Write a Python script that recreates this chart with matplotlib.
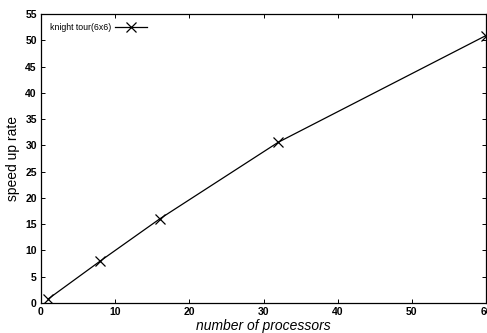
import matplotlib
matplotlib.use('Agg')
import matplotlib.pyplot as plt

# data
processors = [1, 8, 16, 32, 60]
speedup = [0.8, 8.0, 16.0, 30.6, 50.9]
series_label = 'knight tour(6x6)'

x_ticks = [0, 10, 20, 30, 40, 50, 60]
y_ticks = list(range(0, 56, 5))

plt.rcParams['font.family'] = ['Liberation Sans', 'DejaVu Sans']

fig = plt.figure(figsize=(4.87, 3.33), dpi=100)
ax = fig.add_axes([41 / 487, 30 / 333, 445 / 487, 289 / 333])

ax.plot(processors, speedup, color='black', lw=0.9, marker='x',
        markersize=7, markeredgewidth=0.9, label=series_label)

ax.set_xlim(0, 60)
ax.set_ylim(0, 55)
ax.set_xticks(x_ticks)
ax.set_yticks(y_ticks)
ax.tick_params(direction='in', length=3, width=0.7, top=True, right=True,
               labelsize=7.5, pad=3)
for lab in ax.get_xticklabels() + ax.get_yticklabels():
    lab.set_fontweight('bold')
for s in ax.spines.values():
    s.set_linewidth(0.9)

ax.set_xlabel('number of processors', fontsize=10, style='italic', labelpad=1)
ax.set_ylabel('speed up rate', fontsize=10, labelpad=4)

# legend: text first, then the line sample
ax.legend(loc='upper left', frameon=False, fontsize=6.3, handlelength=3.6,
          handletextpad=0.5, borderaxespad=0.6, markerfirst=False,
          bbox_to_anchor=(0.0, 1.0))

fig.savefig('out.png', dpi=100)
